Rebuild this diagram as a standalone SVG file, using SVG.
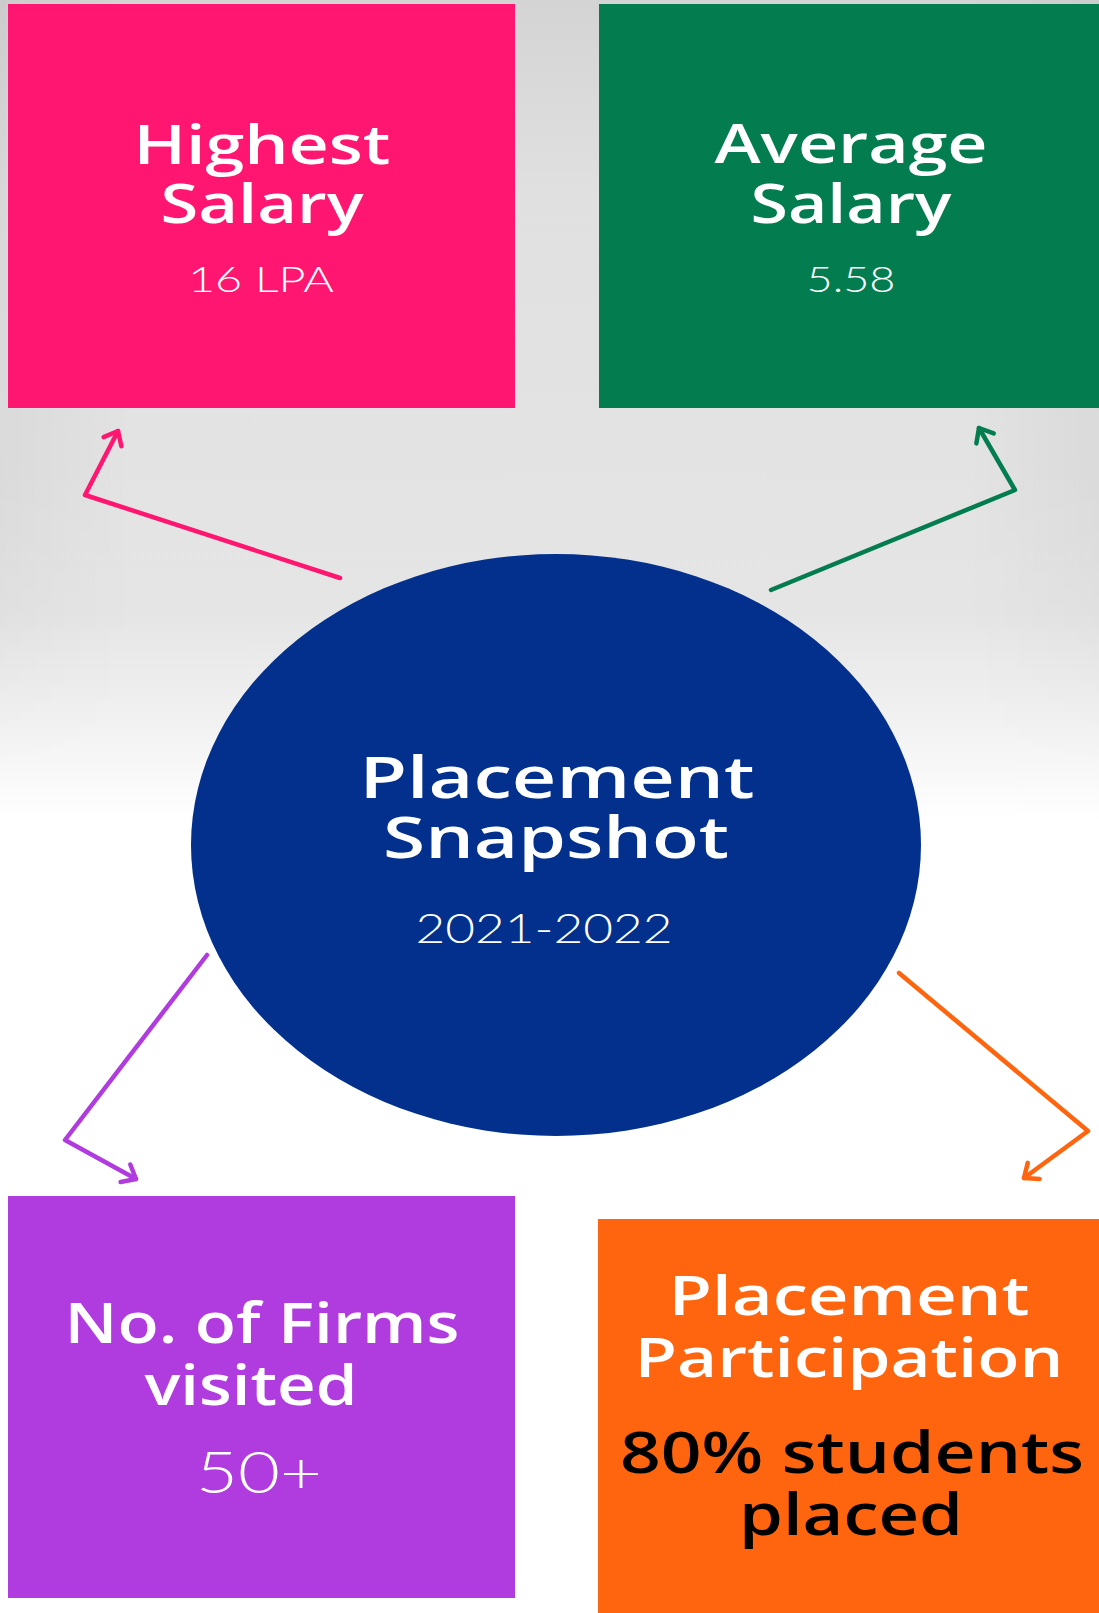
<svg xmlns="http://www.w3.org/2000/svg" width="1099" height="1613" viewBox="0 0 1099 1613">
  <defs>
    <linearGradient id="bg" x1="0" y1="0" x2="0" y2="1">
      <stop offset="0" stop-color="#d4d4d4"/>
      <stop offset="0.12" stop-color="#e0e0e0"/>
      <stop offset="0.38" stop-color="#e5e5e5"/>
      <stop offset="0.45" stop-color="#f2f2f2"/>
      <stop offset="0.51" stop-color="#ffffff"/>
      <stop offset="1" stop-color="#ffffff"/>
    </linearGradient>
    <linearGradient id="vig" x1="0" y1="0" x2="1" y2="0">
      <stop offset="0" stop-color="#000" stop-opacity="0.035"/>
      <stop offset="0.12" stop-color="#000" stop-opacity="0"/>
      <stop offset="0.88" stop-color="#000" stop-opacity="0"/>
      <stop offset="1" stop-color="#000" stop-opacity="0.035"/>
    </linearGradient>
    <linearGradient id="vigmask" x1="0" y1="0" x2="0" y2="1">
      <stop offset="0" stop-color="#fff"/>
      <stop offset="0.3" stop-color="#fff"/>
      <stop offset="0.48" stop-color="#000"/>
    </linearGradient>
    <mask id="m">
      <rect width="1099" height="1613" fill="url(#vigmask)"/>
    </mask>
    <marker id="ahPink" markerUnits="userSpaceOnUse" markerWidth="40" markerHeight="40" viewBox="-20 -20 40 40" refX="0" refY="0" orient="auto">
      <path d="M-12,-10 L0,0 L-12,10" fill="none" stroke="#ff1670" stroke-width="4.5" stroke-linecap="round" stroke-linejoin="round"/>
    </marker>
    <marker id="ahGreen" markerUnits="userSpaceOnUse" markerWidth="40" markerHeight="40" viewBox="-20 -20 40 40" refX="0" refY="0" orient="auto">
      <path d="M-12,-10 L0,0 L-12,10" fill="none" stroke="#037d50" stroke-width="4.5" stroke-linecap="round" stroke-linejoin="round"/>
    </marker>
    <marker id="ahPurple" markerUnits="userSpaceOnUse" markerWidth="40" markerHeight="40" viewBox="-20 -20 40 40" refX="0" refY="0" orient="auto">
      <path d="M-12,-10 L0,0 L-12,10" fill="none" stroke="#b03bdf" stroke-width="4.5" stroke-linecap="round" stroke-linejoin="round"/>
    </marker>
    <marker id="ahOrange" markerUnits="userSpaceOnUse" markerWidth="40" markerHeight="40" viewBox="-20 -20 40 40" refX="0" refY="0" orient="auto">
      <path d="M-12,-10 L0,0 L-12,10" fill="none" stroke="#fe650e" stroke-width="4.5" stroke-linecap="round" stroke-linejoin="round"/>
    </marker>
  </defs>
  <style>
    .head { font-family: "Open Sans", "DejaVu Sans", "Liberation Sans", sans-serif; font-weight: 600; fill: #ffffff; text-anchor: middle; }
    .val { font-family: Lato, "Open Sans", "Liberation Sans", sans-serif; font-weight: 300; fill: #ffffff; text-anchor: middle; }
    .dark { fill: #000000; }
    .conn { fill: none; stroke-width: 4.5; stroke-linecap: round; stroke-linejoin: round; }
  </style>

  <rect width="1099" height="1613" fill="url(#bg)"/>
  <rect width="1099" height="1613" fill="url(#vig)" mask="url(#m)"/>

  <g id="connectors">
    <polyline class="conn" stroke="#ff1670" points="340,578 85,495 118,431" marker-end="url(#ahPink)"/>
    <polyline class="conn" stroke="#037d50" points="771,590 1015,490 979,428" marker-end="url(#ahGreen)"/>
    <polyline class="conn" stroke="#b03bdf" points="207,955 65,1140 136,1179" marker-end="url(#ahPurple)"/>
    <polyline class="conn" stroke="#fe650e" points="899,973 1088,1131 1024,1178" marker-end="url(#ahOrange)"/>
  </g>

  <g id="node-highest">
    <rect x="8" y="4" width="507" height="404" fill="#ff1670"/>
    <text class="head" x="262" y="164" font-size="54" textLength="257" lengthAdjust="spacingAndGlyphs">Highest</text>
    <text class="head" x="262" y="223" font-size="54" textLength="203" lengthAdjust="spacingAndGlyphs">Salary</text>
    <text class="val" x="261" y="292" font-size="36" textLength="146" lengthAdjust="spacingAndGlyphs">16 LPA</text>
  </g>

  <g id="node-average">
    <rect x="599" y="4" width="500" height="404" fill="#037d50"/>
    <text class="head" x="851" y="163" font-size="54" textLength="273" lengthAdjust="spacingAndGlyphs">Average</text>
    <text class="head" x="851" y="223" font-size="54" textLength="201" lengthAdjust="spacingAndGlyphs">Salary</text>
    <text class="val" x="851" y="292" font-size="36" textLength="89" lengthAdjust="spacingAndGlyphs">5.58</text>
  </g>

  <g id="node-center">
    <ellipse cx="556" cy="845" rx="365" ry="291" fill="#02308c"/>
    <text class="head" x="557" y="798" font-size="57" textLength="395" lengthAdjust="spacingAndGlyphs">Placement</text>
    <text class="head" x="556" y="858" font-size="57" textLength="346" lengthAdjust="spacingAndGlyphs">Snapshot</text>
    <text class="val" x="544" y="943" font-size="42" textLength="257" lengthAdjust="spacingAndGlyphs">2021-2022</text>
  </g>

  <g id="node-firms">
    <rect x="8" y="1196" width="507" height="402" fill="#b03bdf"/>
    <text class="head" x="262" y="1343" font-size="56" textLength="395" lengthAdjust="spacingAndGlyphs">No. of Firms</text>
    <text class="head" x="251" y="1405" font-size="56" textLength="213" lengthAdjust="spacingAndGlyphs">visited</text>
    <text class="val" x="259" y="1493" font-size="57" textLength="126" lengthAdjust="spacingAndGlyphs">50+</text>
  </g>

  <g id="node-participation">
    <rect x="598" y="1219" width="501" height="394" fill="#fe650e"/>
    <text class="head" x="849" y="1315" font-size="54" textLength="361" lengthAdjust="spacingAndGlyphs">Placement</text>
    <text class="head" x="849" y="1377" font-size="54" textLength="429" lengthAdjust="spacingAndGlyphs">Participation</text>
    <text class="head dark" x="852" y="1473" font-size="57" textLength="464" lengthAdjust="spacingAndGlyphs">80% students</text>
    <text class="head dark" x="851" y="1535" font-size="57" textLength="224" lengthAdjust="spacingAndGlyphs">placed</text>
  </g>
</svg>
